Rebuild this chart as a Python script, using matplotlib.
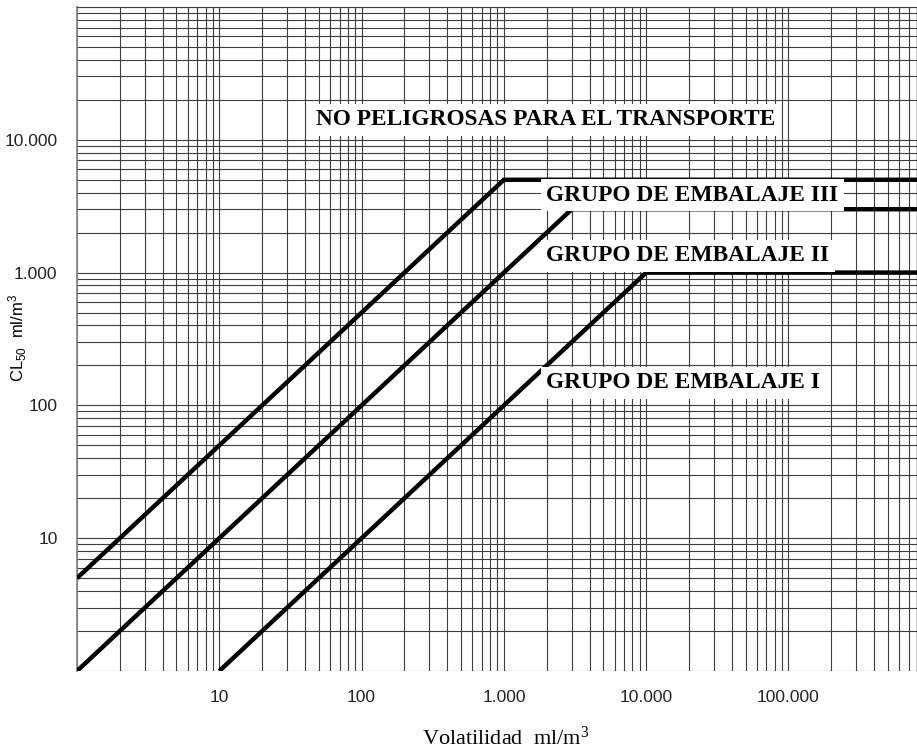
import matplotlib
matplotlib.use("Agg")
import matplotlib.pyplot as plt
from matplotlib.ticker import LogLocator, NullFormatter, FixedLocator, FixedFormatter

plt.rcParams['mathtext.default'] = 'regular'

# ---- data ----
x_max = 8.0e5
# Packing group boundary lines (volatility, LC50)
pg3_x = [1, 1000, x_max]
pg3_y = [5, 5000, 5000]
pg2_x = [1, 3000, x_max]
pg2_y = [1, 3000, 3000]
pg1_x = [10, 10000, x_max]
pg1_y = [1, 1000, 1000]

x_ticks = [10, 100, 1000, 10000, 100000]
x_tick_labels = ['10', '100', '1.000', '10.000', '100.000']
y_ticks = [10, 100, 1000, 10000]
y_tick_labels = ['10', '100', '1.000', '10.000']

region_labels = ['NO PELIGROSAS PARA EL TRANSPORTE', 'GRUPO DE EMBALAJE III',
                 'GRUPO DE EMBALAJE II', 'GRUPO DE EMBALAJE I']
region_x = [47.7, 1990, 1990, 1990]
region_y = [14100, 3840, 1334, 147.5]

W, H = 917, 749
fig = plt.figure(figsize=(W / 100, H / 100), dpi=100)
fig.patch.set_facecolor('white')
L, R, T, B = 77, 917, 7, 671
ax = fig.add_axes([L / W, 1 - B / H, (R - L) / W, (B - T) / H])

ax.set_xscale('log')
ax.set_yscale('log')
ax.set_xlim(1, x_max)
ax.set_ylim(1, 1.0e5)

sub = [2, 3, 4, 5, 6, 7, 8, 9]
ax.xaxis.set_minor_locator(LogLocator(base=10, subs=sub, numticks=50))
ax.yaxis.set_minor_locator(LogLocator(base=10, subs=sub, numticks=50))
ax.xaxis.set_minor_formatter(NullFormatter())
ax.yaxis.set_minor_formatter(NullFormatter())
ax.xaxis.set_major_locator(FixedLocator([1] + x_ticks + [1e6]))
ax.yaxis.set_major_locator(FixedLocator([1] + y_ticks + [1e5]))
ax.xaxis.set_major_formatter(FixedFormatter([''] + x_tick_labels + ['']))
ax.yaxis.set_major_formatter(FixedFormatter([''] + y_tick_labels + ['']))

ax.grid(True, which='both', color='#3c3c3c', lw=0.8)
ax.set_axisbelow(True)
ax.tick_params(which='both', length=0)
ax.tick_params(axis='x', pad=14, labelsize=12.5, labelcolor='#222222')
ax.tick_params(axis='y', pad=14, labelsize=12.5, labelcolor='#222222')
for lab in ax.get_xticklabels() + ax.get_yticklabels():
    lab.set_family('Liberation Sans')

ax.spines['bottom'].set_visible(False)
ax.spines['left'].set_color('#8a8a8a')
ax.spines['left'].set_linewidth(1.3)
ax.spines['top'].set_color('#3c3c3c')
ax.spines['top'].set_linewidth(0.8)
ax.spines['right'].set_color('#3c3c3c')
ax.spines['right'].set_linewidth(1.0)

for xs, ys in [(pg3_x, pg3_y), (pg2_x, pg2_y), (pg1_x, pg1_y)]:
    ax.plot(xs, ys, color='black', lw=3.2, solid_capstyle='butt',
            solid_joinstyle='miter', zorder=3)

for txt, xv, yv in zip(region_labels, region_x, region_y):
    ax.text(xv, yv, txt, ha='left', va='center', family='Liberation Serif',
            fontweight='bold', fontsize=16.8, color='black', zorder=4,
            bbox=dict(boxstyle='square,pad=0.22', fc='white', ec='none'))

fig.text(18 / W, 1 - 338 / H, r'CL$_{50}$  ml/m$^3$', rotation=90,
         ha='center', va='center', family='Liberation Sans', fontsize=12)

fig.text(506 / W, 1 - 745 / H, r'Volatilidad  ml/m$^3$', ha='center',
         va='baseline', family='Liberation Serif', fontsize=16)

fig.savefig('out.png', dpi=100, facecolor='white')
